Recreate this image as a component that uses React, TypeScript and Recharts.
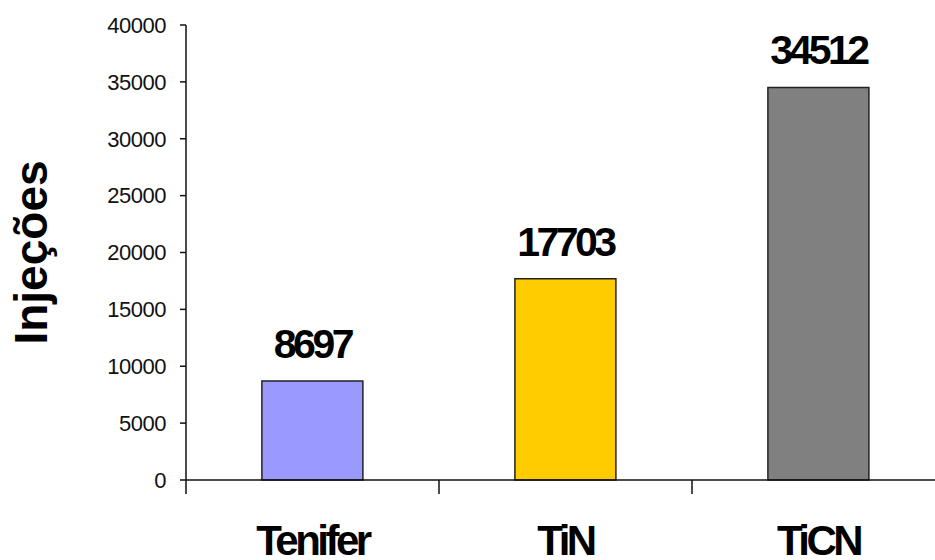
import { BarChart, Bar, XAxis, YAxis, Cell, LabelList } from "recharts";

const categories = ["Tenifer", "TiN", "TiCN"];
const injecoes = [8697, 17703, 34512];
const colors = ["#9999FF", "#FFCC00", "#808080"];
const yTicks = [0, 5000, 10000, 15000, 20000, 25000, 30000, 35000, 40000];

const data = categories.map((name, i) => ({ name, value: injecoes[i] }));

const FONT = "'Liberation Sans', Arial, sans-serif";

// category label plus tick marks on the band edges (Excel style)
function CategoryTick(props: any) {
  const { x, y, payload, index, visibleTicksCount, width } = props;
  let half = payload && payload.offset;
  if (!half && width && visibleTicksCount) half = width / visibleTicksCount / 2;
  half = half || 0;
  const last = index === visibleTicksCount - 1;
  return (
    <g>
      <line x1={x - half} x2={x - half} y1={y} y2={y + 14} stroke="#111" strokeWidth={1.5} />
      {last && (
        <line x1={x + half} x2={x + half} y1={y} y2={y + 14} stroke="#111" strokeWidth={1.5} />
      )}
      <text
        x={x}
        y={y}
        dy={75}
        textAnchor="middle"
        fontFamily={FONT}
        fontWeight="bold"
        fontSize={42}
        letterSpacing={-3.5}
        fill="#000"
      >
        {payload.value}
      </text>
    </g>
  );
}

function YTitle(props: any) {
  const vb = props.viewBox || { x: 0, y: 25, width: 186, height: 455 };
  const x = 47;
  const y = vb.y + vb.height / 2;
  return (
    <text
      x={x}
      y={y}
      transform={`rotate(-90, ${x}, ${y})`}
      textAnchor="middle"
      fontFamily={FONT}
      fontWeight="bold"
      fontSize={46}
      fill="#000"
    >
      Injeções
    </text>
  );
}

export default function App() {
  return (
    <div
      style={{
        position: "fixed",
        left: 0,
        top: 0,
        width: 935,
        height: 560,
        overflow: "hidden",
        background: "#fff",
      }}
    >
      <BarChart
        width={960}
        height={560}
        data={data}
        margin={{ top: 25, right: 15, bottom: 0, left: 0 }}
        barCategoryGap="30%"
      >
        <XAxis
          dataKey="name"
          height={80}
          axisLine={{ stroke: "#111", strokeWidth: 1.5 }}
          tickLine={false}
          tickSize={0}
          tickMargin={0}
          tick={<CategoryTick />}
          interval={0}
        />
        <YAxis
          width={186}
          domain={[0, 40000]}
          ticks={yTicks}
          interval={0}
          axisLine={{ stroke: "#111", strokeWidth: 1.5 }}
          tickLine={{ stroke: "#111", strokeWidth: 1.5 }}
          tickSize={6}
          tickMargin={14}
          tick={{ fontFamily: FONT, fontSize: 22, fill: "#111", letterSpacing: -0.5 }}
          label={<YTitle />}
        />
        <Bar dataKey="value" stroke="#222" strokeWidth={1.5} isAnimationActive={false}>
          {data.map((d, i) => (
            <Cell key={d.name} fill={colors[i]} />
          ))}
          <LabelList
            dataKey="value"
            position="top"
            offset={23}
            style={{
              fontFamily: FONT,
              fontWeight: "bold",
              fontSize: 41,
              letterSpacing: -3.5,
              fill: "#000",
            }}
          />
        </Bar>
      </BarChart>
    </div>
  );
}
